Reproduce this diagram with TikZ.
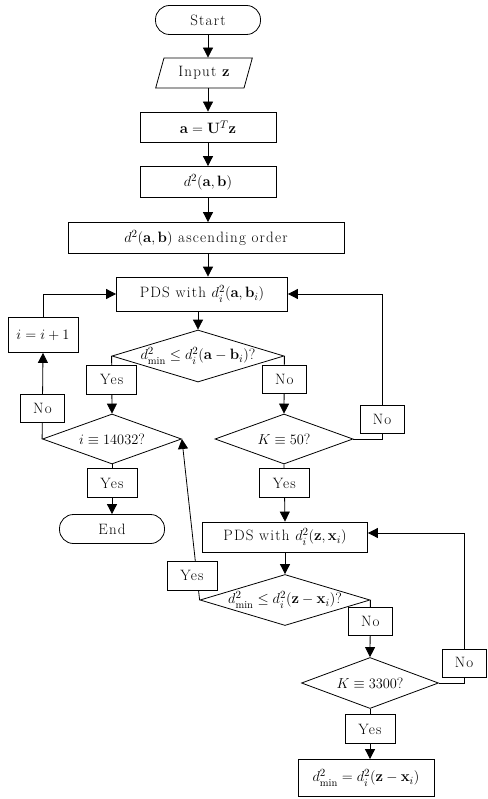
\documentclass[tikz,border=0pt]{standalone}
\usepackage{amsmath}
\usepackage{amssymb}
\usepackage{fontspec}
\setmainfont{Latin Modern Roman}[LetterSpace=8]
\usetikzlibrary{shapes.geometric,arrows.meta}

\tikzset{
  every node/.style={font=\fontsize{15}{17}\selectfont},
  term/.style={draw,rectangle,rounded corners=14pt,minimum width=105pt,minimum height=29pt,inner sep=0pt},
  io/.style={draw,trapezium,trapezium left angle=68,trapezium right angle=112,trapezium stretches=true,minimum width=97pt,minimum height=30pt,inner sep=0pt},
  box/.style={draw,rectangle,minimum height=30pt,inner sep=0pt},
  decision/.style={draw,diamond,inner sep=0pt},
  yesbox/.style={draw,fill=white,minimum width=50pt,minimum height=29pt,inner sep=0pt},
  nobox/.style={draw,fill=white,minimum width=44pt,minimum height=28pt,inner sep=0pt},
  arr/.style={-{Triangle[length=10pt,width=10pt]}}
}

\begin{document}
\begin{tikzpicture}[x=1pt,y=-1pt,line width=0.8pt]
\useasboundingbox (0,0) rectangle (487,799);

\node[term] (start) at (208,20) {Start};
\node[io] (input) at (204,73) {Input $\mathbf{z}$};
\node[box,minimum width=136pt] (eqa) at (208,127) {$\mathbf{a}=\mathbf{U}^T\mathbf{z}$};
\node[box,minimum width=136pt,minimum height=31pt] (dist) at (208,182) {$d^2(\mathbf{a},\mathbf{b})$};
\node[box,minimum width=276pt,minimum height=31pt] (sorted) at (206,238) {$d^2(\mathbf{a},\mathbf{b})$ ascending order};
\node[box,minimum width=171pt,minimum height=34pt] (pds1) at (202,294) {PDS with $d_i^2(\mathbf{a},\mathbf{b}_i)$};

\node[decision,minimum width=172pt,minimum height=52pt,
  label={center:$d^2_{\min}\le d_i^2(\mathbf{a}-\mathbf{b}_i)$?}] (q1) at (198,356) {};
\node[decision,minimum width=139pt,minimum height=50pt,
  label={center:$i\equiv 14032$?}] (q2) at (112,439) {};
\node[decision,minimum width=138pt,minimum height=50pt,
  label={center:$K\equiv 50$?}] (q3) at (284,439) {};
\node[box,minimum width=70pt,minimum height=35pt] (inc) at (43,335) {$i=i+1$};
\node[term] (end) at (112,529) {End};

\node[box,minimum width=165pt] (pds2) at (285,537) {PDS with $d_i^2(\mathbf{z},\mathbf{x}_i)$};
\node[decision,minimum width=170pt,minimum height=51pt,
  label={center:$d^2_{\min}\le d_i^2(\mathbf{z}-\mathbf{x}_i)$?}] (q4) at (285,600) {};
\node[decision,minimum width=137pt,minimum height=51pt,
  label={center:$K\equiv 3300$?}] (q5) at (370,683) {};
\node[box,minimum width=136pt,minimum height=37pt] (final) at (366,778) {$d^2_{\min}=d_i^2(\mathbf{z}-\mathbf{x}_i)$};

\coordinate (loop1) at (382,294);
\coordinate (loop2) at (464,533);

% main line
\draw[arr] (start) -- (start |- input.north);
\draw[arr] (start |- input.south) -- (eqa);
\draw[arr] (eqa) -- (dist);
\draw[arr] (dist) -- (dist |- sorted.north);
\draw[arr] (dist |- sorted.south) -- (dist |- pds1.north);
\draw[arr] (q1 |- pds1.south) -- (q1);

% first search
\draw[arr] (q1.west) -- node[yesbox,pos=0.41] (yes1) {Yes} (q2.north);
\draw[arr] (q1.east) -- node[nobox,pos=0.41] (no1) {No} (q3.north);
\draw[arr] (q2.west) -- node[nobox,pos=0.36] (no2) {No} (inc.south);
\draw[arr] (q2.south) -- node[yesbox,pos=0.38] (yes2) {Yes} (end.north);
\draw[arr] (inc.north) |- (pds1.west);
\draw[arr] (q3.east) -| node[nobox,pos=0.569] (no3) {No} (loop1) -- (pds1.east);
\draw[arr] (q3.south) -- node[yesbox,pos=0.33] (yes3) {Yes} (pds2.north);

% second search
\draw[arr] (pds2) -- (q4);
\draw[arr] (q4.west) -- node[yesbox,pos=0.15,xshift=-5pt] (yes4) {Yes} (q2.east);
\draw[arr] (q4.east) -- node[nobox,pos=0.38] (no4) {No} (q5.north);
\draw[arr] (q5.east) -| node[nobox,pos=0.567] (no5) {No} (loop2) -- (loop2 -| pds2.east);
\draw[arr] (q5.south) -- node[yesbox,pos=0.40] (yes5) {Yes} (q5.south |- final.north);
\end{tikzpicture}
\end{document}
